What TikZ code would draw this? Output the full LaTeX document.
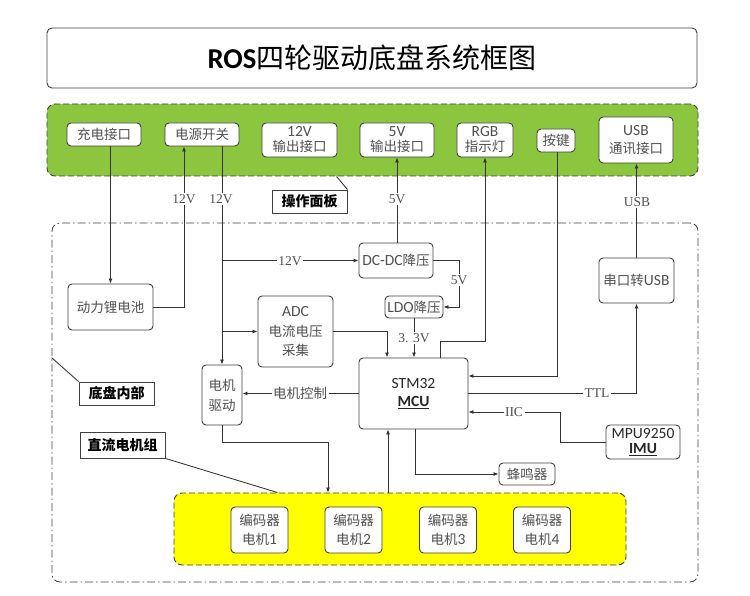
\documentclass[tikz,border=0pt]{standalone}
\usepackage{fontspec}
\setmainfont{Carlito}[Scale=1.15]
\newfontfamily\cjk{Noto Sans CJK SC}
\newfontfamily\serifl{Liberation Serif}
\usetikzlibrary{calc,arrows.meta}
\newcommand{\zh}[1]{{\cjk #1}}
\definecolor{boxc}{HTML}{404040}
\definecolor{linec}{HTML}{333333}
\definecolor{txtc}{HTML}{505050}
\definecolor{panelgreen}{HTML}{8CC63F}
\definecolor{panelyellow}{HTML}{FFFF00}
\begin{document}
\begin{tikzpicture}[x=1pt,y=-1pt,
  box/.style={draw=boxc, fill=white, rounded corners=4pt, line width=0.9pt, inner sep=0pt,
    align=center, text=txtc, font=\fontsize{13.5}{18}\selectfont},
  tag/.style={draw=boxc, fill=white, line width=0.9pt, inner sep=0pt, text=black,
    font=\cjk\bfseries\fontsize{14}{16}\selectfont},
  lbl/.style={fill=white, inner sep=1.5pt, text=txtc, font=\serifl\fontsize{13.5}{15}\selectfont},
  conn/.style={draw=linec, line width=0.85pt},
  arr/.style={conn, -{Latex[length=5pt,width=4pt]}},
  greenpanel/.style={draw=boxc, dash pattern=on 6pt off 3pt, line width=0.9pt, fill=panelgreen, rounded corners=8pt, inner sep=0pt},
  yellowpanel/.style={draw=boxc, dash pattern=on 6pt off 3pt, line width=0.9pt, fill=panelyellow, rounded corners=8pt, inner sep=0pt},
  innerregion/.style={draw=boxc, line width=0.8pt, dash pattern=on 8pt off 3pt on 1.5pt off 3pt, rounded corners=8pt, inner sep=0pt},
  titlebox/.style={draw=boxc, fill=white, rounded corners=5pt, line width=0.9pt, inner sep=0pt,
    font=\fontsize{28}{32}\selectfont}
]
\useasboundingbox (0,0) rectangle (750,596);

% title
\node[titlebox, minimum width=650pt, minimum height=60pt] (title) at (372,58) {{\fontsize{25}{30}\selectfont\textbf{ROS}}\zh{四轮驱动底盘系统框图}};

% panels
\node[greenpanel, minimum width=651pt, minimum height=72pt] (panel) at (372.5,140) {};
\node[innerregion, minimum width=646pt, minimum height=359pt] (inner) at (375,402.5) {};
\node[yellowpanel, minimum width=452pt, minimum height=72pt] (ypanel) at (400,529) {};

% operation panel boxes
\node[box, minimum width=74pt, minimum height=23pt] (chg) at (104,134.5) {\zh{充电接口}};
\node[box, minimum width=74pt, minimum height=23pt] (pwr) at (202,134.5) {\zh{电源开关}};
\node[box, minimum width=75pt, minimum height=34pt] (out12) at (299.5,140) {12V\\[-3pt]\zh{输出接口}};
\node[box, minimum width=74pt, minimum height=34pt] (out5) at (397,140) {5V\\[-3pt]\zh{输出接口}};
\node[box, minimum width=56pt, minimum height=34pt] (rgb) at (485,140) {RGB\\[-3pt]\zh{指示灯}};
\node[box, minimum width=38pt, minimum height=23pt] (key) at (556,140.5) {\zh{按键}};
\node[box, minimum width=74pt, minimum height=46pt] (usb) at (636,140) {USB\\\zh{通讯接口}};

% chassis internals
\node[box, minimum width=85pt, minimum height=46pt] (bat) at (110.5,307) {\zh{动力锂电池}};
\node[box, minimum width=75pt, minimum height=71pt, font=\fontsize{13.5}{19.5}\selectfont] (adc) at (295.5,331.5) {ADC\\\zh{电流电压}\\\zh{采集}};
\node[box, minimum width=40pt, minimum height=60pt, font=\fontsize{13.5}{20}\selectfont] (drv) at (222,395) {\zh{电机}\\\zh{驱动}};
\node[box, minimum width=74pt, minimum height=35pt] (dcdc) at (396,260.5) {DC-DC\zh{降压}};
\node[box, minimum width=58pt, minimum height=22pt] (ldo) at (414,307) {LDO\zh{降压}};
\node[box, minimum width=109pt, minimum height=71pt, text=black!85] (mcu) at (413.5,393.5) {STM32\\\textbf{\underline{MCU}}};
\node[box, minimum width=75pt, minimum height=45pt] (s2u) at (636.5,280.5) {\zh{串口转}USB};
\node[box, minimum width=74pt, minimum height=34pt, text=black!85] (imu) at (643,442) {MPU9250\\[-3pt]\textbf{\underline{IMU}}};
\node[box, minimum width=56pt, minimum height=22pt] (buz) at (527,474) {\zh{蜂鸣器}};

% motors
\node[box, minimum width=57pt, minimum height=46pt, font=\fontsize{13.5}{19}\selectfont] (m1) at (259.5,530) {\zh{编码器}\\\zh{电机}1};
\node[box, minimum width=57pt, minimum height=46pt, font=\fontsize{13.5}{19}\selectfont] (m2) at (353.5,530) {\zh{编码器}\\\zh{电机}2};
\node[box, minimum width=57pt, minimum height=46pt, font=\fontsize{13.5}{19}\selectfont] (m3) at (448,530) {\zh{编码器}\\\zh{电机}3};
\node[box, minimum width=57pt, minimum height=46pt, font=\fontsize{13.5}{19}\selectfont] (m4) at (542,530) {\zh{编码器}\\\zh{电机}4};

% tags
\node[tag, minimum width=75pt, minimum height=23pt] (optag) at (309.5,201.5) {操作面板};
\node[tag, minimum width=75pt, minimum height=23pt] (intag) at (116.5,393.5) {底盘内部};
\node[tag, minimum width=85pt, minimum height=26pt] (dctag) at (122.5,445) {直流电机组};

% connectors
\draw[arr] (chg.south -| bat.north) -- (bat.north);
\draw[arr] (bat.east) -| ($(pwr.south)+(-18,0)$);
\draw[arr] (pwr.south -| drv.north) -- (drv.north);
\draw[arr] (drv.north |- dcdc.west) -- (dcdc.west);
\draw[arr] (drv.north |- adc.west) -- (adc.west);
\draw[arr] (adc.east) -| ($(mcu.north)+(-26.5,0)$);
\draw[arr] (dcdc.north -| out5.south) -- (out5.south);
\draw[arr] (dcdc.east) -| ($(ldo.east)+(16,0)$) -- (ldo.east);
\draw[arr] (ldo.south) -- (ldo.south |- mcu.north);
\draw[arr] ($(mcu.north)+(26.5,0)$) -- ++(0,-16) -| (rgb.south);
\draw[arr] ($(key.south)+(1,0)$) |- ($(mcu.east)+(0,-17.5)$);
\draw[arr] (mcu.west) -- (mcu.west -| drv.east);
\draw[arr] (mcu.east) -| (s2u.south);
\draw[arr] (s2u.north) -- (s2u.north |- usb.south);
\draw[arr] (imu.west) -- ++(-45,0) |- ($(mcu.east)+(0,18.5)$);
\draw[arr] ($(mcu.south)+(1.5,0)$) |- (buz.west);
\draw[arr] (drv.south) -- ++(0,17) -| ($(ypanel.north)+(-72,0)$);
\draw[arr] ($(ypanel.north)+(-12,0)$) -- ($(mcu.south)+(-25.5,0)$);

% leaders
\draw[conn] ($(panel.south west)+(290,0)$) -- (optag.north east);
\draw[conn] ($(inner.north west)+(0,135)$) -- (intag.north west);
\draw[conn] (dctag.south east) -- ($(ypanel.north west)+(104,0)$);

% connector labels
\node[lbl] (l1) at (184,199) {12V};
\node[lbl] (l2) at (221,199) {12V};
\node[lbl] (l3) at (290,261) {12V};
\node[lbl] (l4) at (397,199) {5V};
\node[lbl] (l5) at (459,280) {5V};
\node[lbl] (l6) at (414,338) {3. 3V};
\node[lbl, font=\cjk\fontsize{13.5}{16}\selectfont] (l7) at (300,393.5) {电机控制};
\node[lbl] (l8) at (597,393.5) {TTL};
\node[lbl] (l9) at (514,412) {IIC};
\node[lbl] (l10) at (637,202) {USB};
\end{tikzpicture}
\end{document}
